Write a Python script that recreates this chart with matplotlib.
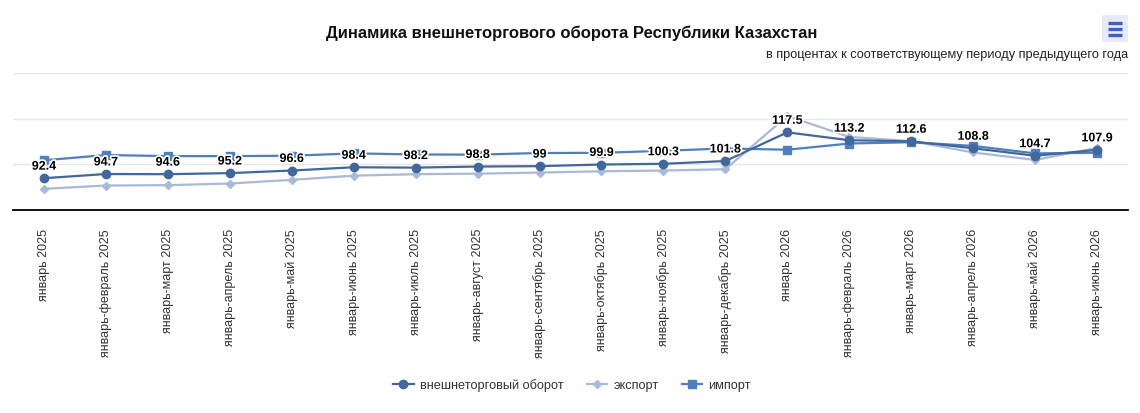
import matplotlib.pyplot as plt
import matplotlib.patheffects as pe
from matplotlib.patches import FancyBboxPatch
from matplotlib.lines import Line2D

plt.rcParams['font.family'] = ['Liberation Sans', 'DejaVu Sans']

periods = ["январь 2025", "январь-февраль 2025", "январь-март 2025", "январь-апрель 2025",
           "январь-май 2025", "январь-июнь 2025", "январь-июль 2025", "январь-август 2025",
           "январь-сентябрь 2025", "январь-октябрь 2025", "январь-ноябрь 2025",
           "январь-декабрь 2025", "январь 2026", "январь-февраль 2026", "январь-март 2026",
           "январь-апрель 2026", "январь-май 2026", "январь-июнь 2026"]
turnover = [92.4, 94.7, 94.6, 95.2, 96.6, 98.4, 98.2, 98.8, 99, 99.9, 100.3, 101.8,
            117.5, 113.2, 112.6, 108.8, 104.7, 107.9]
export = [86.6, 88.4, 88.6, 89.5, 91.5, 93.8, 94.6, 94.9, 95.5, 96.2, 96.6, 97.3,
          126.5, 115.0, 112.7, 106.5, 102.4, 109.0]
imports = [102.2, 105.1, 104.5, 104.5, 104.7, 106.0, 105.4, 105.3, 106.2, 106.3, 107.4, 108.7,
           108.0, 111.4, 112.1, 110.1, 106.0, 106.3]

c_turn = "#41679c"
c_exp = "#a9b9d8"
c_imp = "#4f7fbf"

W, H = 1140, 414
fig = plt.figure(figsize=(W / 100, H / 100), dpi=100)
ax = fig.add_axes([13 / W, (H - 211) / H, (1128 - 13) / W, (211 - 74) / H])

x = list(range(len(periods)))
ax.plot(x, turnover, color=c_turn, lw=1.6, marker="o", ms=6, zorder=4, label="внешнеторговый оборот")
ax.plot(x, export, color=c_exp, lw=1.6, marker="D", ms=4.5, zorder=3, label="экспорт")
ax.plot(x, imports, color=c_imp, lw=1.6, marker="s", ms=6, zorder=3, label="импорт")

for xi, v in zip(x, turnover):
    ax.annotate(f"{v:g}", (xi, v), xytext=(0, 4), textcoords="offset points",
                ha="center", va="bottom", fontsize=9, fontweight="bold", color="black", zorder=6,
                path_effects=[pe.withStroke(linewidth=2.5, foreground="white")])

ax.set_xlim(-0.5, len(periods) - 0.5)
ax.set_ylim(75, 150)
ax.set_yticks([100, 125, 150])
ax.set_yticklabels([])
ax.tick_params(axis="y", length=0)
ax.grid(axis="y", color="#e6e6e6", lw=1)
ax.set_axisbelow(True)
for s in ["top", "left", "right"]:
    ax.spines[s].set_visible(False)
ax.spines["bottom"].set_color("black")
ax.spines["bottom"].set_linewidth(1.3)

ax.set_xticks(x)
ax.set_xticklabels(periods, rotation=90, fontsize=9, color="#333333", va="top")
ax.tick_params(axis="x", length=0, pad=13)

fig.text(572 / W, 1 - 33 / H, "Динамика внешнеторгового оборота Республики Казахстан",
         ha="center", va="center", fontsize=12, fontweight="bold", color="#111111")
fig.text(1128 / W, 1 - 55 / H, "в процентах к соответствующему периоду предыдущего года",
         ha="right", va="center", fontsize=9.2, color="#222222")

# menu button
btn = FancyBboxPatch((1102 / W, 1 - 43 / H), 26 / W, 27 / H,
                     boxstyle="round,pad=0,rounding_size=0.003",
                     transform=fig.transFigure, facecolor="#e8ebf7", edgecolor="none")
fig.patches.append(btn)
for yy in [23.5, 29.5, 35.5]:
    fig.lines.append(Line2D([1108 / W, 1122 / W], [1 - yy / H, 1 - yy / H],
                            transform=fig.transFigure, color="#3d5fbf", lw=2.4,
                            solid_capstyle="butt"))

leg = fig.legend(loc="center", bbox_to_anchor=(572 / W, 1 - 386 / H), ncol=3, frameon=False,
                 fontsize=9.2, handlelength=1.6, columnspacing=1.8, handletextpad=0.5)
for t in leg.get_texts():
    t.set_color("#333333")

fig.savefig("out.png", dpi=100)
plt.close(fig)
